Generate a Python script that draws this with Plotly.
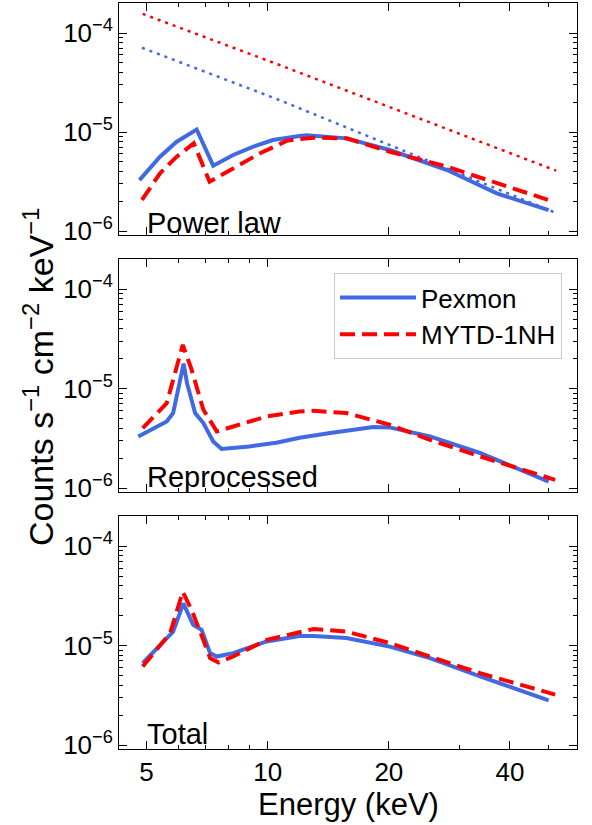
import plotly.graph_objects as go
import numpy as np

# ---------------- data ----------------
# Panel 1: Power law
pl_blue_E = [4.80, 5.40, 5.94, 6.66, 7.32, 8.21, 9.21, 10.3, 12.0, 12.5, 15.7, 20.1, 27.9, 37.1, 49.9]
pl_blue = [3.27e-6, 5.64e-6, 7.98e-6, 1.06e-5, 4.57e-6, 5.86e-6, 7.11e-6, 8.30e-6, 9.12e-6, 9.30e-6,
           8.63e-6, 6.58e-6, 4.13e-6, 2.40e-6, 1.63e-6]
pl_red_E = [4.87, 5.40, 5.94, 6.55, 7.17, 8.21, 9.57, 11.2, 13.0, 15.7, 20.1, 27.9, 37.1, 51.3]
pl_red = [2.06e-6, 3.83e-6, 5.64e-6, 7.69e-6, 3.15e-6, 4.30e-6, 6.10e-6, 8.20e-6, 8.77e-6, 8.63e-6,
          6.32e-6, 4.47e-6, 3.03e-6, 1.98e-6]
pl_blue_dot_E = [4.87, 10.7, 51.5]
pl_blue_dot = [7.1e-5, 2.1e-5, 1.55e-6]
pl_red_dot_E = [4.89, 10.7, 52.1]
pl_red_dot = [1.56e-4, 4.75e-5, 4.07e-6]

# Panel 2: Reprocessed
rp_blue_E = [4.77, 5.61, 5.82, 6.18, 6.30, 6.60, 6.92, 7.32, 7.68, 9.0, 10.5, 12.0, 14.3, 18.3, 20.1,
             25.3, 33.7, 49.9]
rp_blue = [3.30e-6, 4.67e-6, 5.67e-6, 1.78e-5, 1.14e-5, 5.68e-6, 4.50e-6, 2.94e-6, 2.47e-6, 2.62e-6,
           2.85e-6, 3.20e-6, 3.57e-6, 4.10e-6, 4.07e-6, 3.30e-6, 2.25e-6, 1.16e-6]
rp_red_E = [4.89, 5.61, 6.15, 6.47, 6.92, 7.47, 8.21, 9.94, 12.0, 13.0, 15.7, 20.1, 25.3, 33.7, 51.8]
rp_red = [4.0e-6, 7.14e-6, 2.75e-5, 1.55e-5, 6.12e-6, 3.71e-6, 4.16e-6, 5.25e-6, 5.89e-6, 5.98e-6,
          5.67e-6, 4.33e-6, 3.05e-6, 2.08e-6, 1.21e-6]

# Panel 3: Total
tot_blue_E = [4.89, 5.82, 6.17, 6.53, 6.85, 7.19, 7.47, 8.21, 9.94, 12.0, 13.0, 15.7, 20.1, 25.3, 33.7, 49.9]
tot_blue = [6.65e-6, 1.38e-5, 2.66e-5, 1.62e-5, 1.44e-5, 8.39e-6, 7.76e-6, 8.4e-6, 1.10e-5, 1.25e-5,
            1.25e-5, 1.19e-5, 9.77e-6, 7.48e-6, 4.89e-6, 2.81e-6]
tot_red_E = [4.89, 5.72, 6.15, 6.47, 6.92, 7.19, 7.55, 8.21, 9.94, 12.0, 13.0, 15.7, 20.1, 25.3, 33.7, 51.8]
tot_red = [6.15e-6, 1.33e-5, 3.48e-5, 2.28e-5, 1.14e-5, 7.48e-6, 6.76e-6, 7.76e-6, 1.14e-5, 1.38e-5,
           1.47e-5, 1.38e-5, 1.06e-5, 7.76e-6, 5.28e-6, 3.21e-6]

panel_labels = ["Power law", "Reprocessed", "Total"]
series_names = ["Pexmon", "MYTD-1NH"]
x_ticks = [5, 10, 20, 40]
x_minor = [6, 7, 8, 9, 30, 50]
y_ticks = [1e-6, 1e-5, 1e-4]
y_ticktext = ["10<sup>−6</sup>", "10<sup>−5</sup>", "10<sup>−4</sup>"]

# ---------------- figure ----------------
BLUE = "#4169E1"
RED = "#FF0000"
FONT = "Liberation Sans, Arial, sans-serif"

fig = go.Figure()

def add(E, v, color, dash, width, xa, ya, name=None, show=False):
    fig.add_trace(go.Scatter(x=E, y=v, mode="lines", xaxis=xa, yaxis=ya,
                             line=dict(color=color, width=width, dash=dash),
                             name=name, showlegend=show))

SOLID_W = 4
DASH = "15px,7px"
DOT = "3px,5px"

add(pl_red_dot_E, pl_red_dot, RED, DOT, 2.5, "x", "y")
add(pl_blue_dot_E, pl_blue_dot, BLUE, DOT, 2.5, "x", "y")
add(pl_blue_E, pl_blue, BLUE, "solid", SOLID_W, "x", "y")
add(pl_red_E, pl_red, RED, DASH, SOLID_W, "x", "y")

add(rp_blue_E, rp_blue, BLUE, "solid", SOLID_W, "x2", "y2", series_names[0], True)
add(rp_red_E, rp_red, RED, DASH, SOLID_W, "x2", "y2", series_names[1], True)

add(tot_blue_E, tot_blue, BLUE, "solid", SOLID_W, "x3", "y3")
add(tot_red_E, tot_red, RED, DASH, SOLID_W, "x3", "y3")

W, H = 592, 825
L, R, T, B = 119, 577, 3, 749
ph = B - T
def yfrac(py):
    return (B - py) / ph

domains = [(yfrac(235), yfrac(3)), (yfrac(492), yfrac(259)), (yfrac(749), yfrac(516))]

minor_y = [m * 10.0 ** e for e in (-6, -5, -4) for m in range(2, 10) if m * 10.0 ** e <= 2e-4]

TICKF = 26
layout = dict(
    width=W, height=H,
    margin=dict(l=L, r=W - R, t=T, b=H - B, autoexpand=False),
    paper_bgcolor="white", plot_bgcolor="white",
    font=dict(family=FONT, size=24, color="black"),
    showlegend=True,
    legend=dict(x=(334 - L) / (R - L), y=yfrac(273), xanchor="left", yanchor="top",
                bgcolor="white", bordercolor="#cccccc", borderwidth=1,
                font=dict(size=26, family=FONT), tracegroupgap=0, itemwidth=76),
)

for i in range(3):
    sx = "" if i == 0 else str(i + 1)
    layout["xaxis" + sx] = dict(
        type="log", range=[np.log10(4.27), np.log10(58.7)],
        anchor="y" + sx, domain=[0, 1], automargin=False,
        tickmode="array", tickvals=x_ticks, ticktext=[str(t) for t in x_ticks],
        showticklabels=(i == 2), ticks="inside", ticklen=8, tickwidth=1, tickcolor="black",
        minor=dict(tickmode="array", tickvals=x_minor, ticks="inside", ticklen=4,
                   tickwidth=1, tickcolor="black", showgrid=False),
        showline=True, linecolor="black", linewidth=1, mirror="allticks",
        showgrid=False, zeroline=False,
        tickfont=dict(size=TICKF, family=FONT),
        matches="x" if i > 0 else None,
    )
    layout["yaxis" + sx] = dict(
        type="log", range=[-6.04, -3.697],
        anchor="x" + sx, domain=list(domains[i]), automargin=False,
        tickmode="array", tickvals=y_ticks, ticktext=y_ticktext,
        ticks="inside", ticklen=8, tickwidth=1, tickcolor="black",
        minor=dict(tickmode="array", tickvals=minor_y, ticks="inside", ticklen=4,
                   tickwidth=1, tickcolor="black", showgrid=False),
        showline=True, linecolor="black", linewidth=1, mirror="allticks",
        showgrid=False, zeroline=False,
        tickfont=dict(size=TICKF, family=FONT),
    )

fig.update_layout(**layout)

# panel labels
label_pos = [(223, 235, 232), (477, 492, 233), (734, 749, 233)]
for i, (txt, (mid, bot, h)) in enumerate(zip(panel_labels, label_pos)):
    sx = "" if i == 0 else str(i + 1)
    fig.add_annotation(text=txt, xref=("x" + sx + " domain"), yref=("y" + sx + " domain"),
                       x=(145 - L) / (R - L), y=(bot - mid) / h, xanchor="left", yanchor="middle",
                       showarrow=False, font=dict(size=29, family=FONT, color="black"))

# axis titles
fig.add_annotation(text="Counts s<sup>−1</sup> cm<sup>−2</sup> keV<sup>−1</sup>",
                   xref="paper", yref="paper", x=(38 - L) / (R - L), y=yfrac(377),
                   xanchor="center", yanchor="middle", textangle=-90, showarrow=False,
                   font=dict(size=34, family=FONT, color="black"))
fig.add_annotation(text="Energy (keV)", xref="paper", yref="paper",
                   x=0.5, y=yfrac(804), xanchor="center", yanchor="middle", showarrow=False,
                   font=dict(size=31, family=FONT, color="black"))

fig.write_html("out.html", config={"displayModeBar": False},
               post_script="document.body.style.margin='0';document.body.style.padding='0';")
